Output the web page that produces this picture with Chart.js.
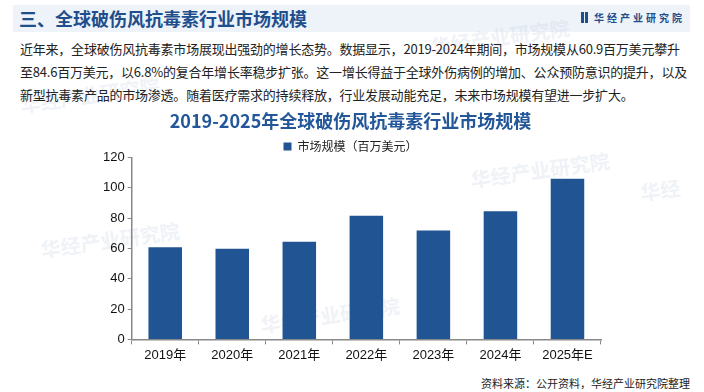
<!DOCTYPE html>
<html>
<head>
<meta charset="utf-8">
<script src="https://cdn.jsdelivr.net/npm/chart.js@4/dist/chart.umd.min.js"></script>
<style>
  body { margin: 0; width: 704px; height: 392px; background: #fff; position: relative; overflow: hidden;
         font-family: "Noto Sans CJK SC", "Noto Sans", sans-serif; }
  .header { position: absolute; left: 13px; top: 5px; width: 677px; height: 27px; background: #eef3fa; }
  .header .t { position: absolute; left: 6px; top: 1px; font-size: 18px; font-weight: bold; color: #1f4e8c; line-height: 25px; }
  .logo { position: absolute; right: 5px; top: 7px; font-size: 10px; font-weight: bold; color: #1f4e8c; letter-spacing: 3px; line-height: 12px; }
  .logo i { display: inline-block; width: 3px; height: 11px; background: #1f4e8c; margin-right: 1px; vertical-align: -1px; }
  .txt { position: absolute; left: 20px; top: 37px; font-size: 13px; line-height: 23px; color: #222; white-space: nowrap; letter-spacing: -0.22px; }
  .src { position: absolute; right: 14px; top: 375px; font-size: 11px; color: #222; }
  .wm { position: absolute; color: rgba(200, 210, 225, 0.3); font-weight: bold; font-size: 20px; transform: rotate(-8deg); }
  #wrap { position: absolute; left: 0; top: 104px; width: 704px; height: 268px; }
</style>
</head>
<body>
<div class="header">
  <div class="t">三、全球破伤风抗毒素行业市场规模</div>
  <div class="logo"><i></i><i></i> 华经产业研究院</div>
</div>
<div class="wm" style="left:430px;top:22px;">华经产业研究院</div>
<div class="wm" style="left:20px;top:80px;">华经产业研究院</div>
<div class="wm" style="left:40px;top:225px;">华经产业研究院</div>
<div class="wm" style="left:470px;top:155px;">华经产业研究院</div>
<div class="wm" style="left:260px;top:300px;">华经产业研究院</div>
<div class="wm" style="left:640px;top:175px;">华经</div>
<div class="txt">近年来，全球破伤风抗毒素市场展现出强劲的增长态势。数据显示，2019-2024年期间，市场规模从60.9百万美元攀升<br>至84.6百万美元，以6.8%的复合年增长率稳步扩张。这一增长得益于全球外伤病例的增加、公众预防意识的提升，以及<br>新型抗毒素产品的市场渗透。随着医疗需求的持续释放，行业发展动能充足，未来市场规模有望进一步扩大。</div>
<div id="wrap"><canvas id="grafica"></canvas></div>
<div class="src">资料来源：公开资料，华经产业研究院整理</div>

<script>
// Datos del gráfico
const anios = ["2019年", "2020年", "2021年", "2022年", "2023年", "2024年", "2025年E"];
const mercado = [60.9, 59.9, 64.5, 81.6, 71.8, 84.6, 106.0];
const serieNombre = "市场规模（百万美元）";
const tituloGrafica = "2019-2025年全球破伤风抗毒素行业市场规模";

const ctx = document.getElementById("grafica").getContext("2d");

// Acortar la caja de la leyenda para acercar el área de la gráfica
const leyendaCorta = {
  id: "leyendaCorta",
  beforeInit(chart) {
    const fitOriginal = chart.legend.fit;
    chart.legend.fit = function () {
      fitOriginal.bind(chart.legend)();
      this.height -= 5;
    };
  },
};

new Chart(ctx, {
  type: "bar",
  data: {
    labels: anios,
    datasets: [
      {
        label: serieNombre,
        data: mercado,
        backgroundColor: "#215493",
        barPercentage: 0.5,
        categoryPercentage: 1,
      },
    ],
  },
  options: {
    responsive: true,
    maintainAspectRatio: false,
    animation: false,
    layout: { padding: { top: 4, left: 100, right: 103, bottom: 6 } },
    plugins: {
      title: {
        display: true,
        text: tituloGrafica,
        color: "#23579a",
        font: { size: 18, weight: "bold", family: "'Noto Sans CJK SC'" },
        padding: { top: 2, bottom: 8 },
      },
      legend: {
        display: true,
        labels: {
          boxWidth: 8,
          boxHeight: 8,
          padding: 1,
          color: "#222",
          font: { size: 12, family: "'Noto Sans CJK SC'" },
        },
      },
      tooltip: { enabled: false },
    },
    scales: {
      x: {
        grid: { display: true, drawOnChartArea: false, drawTicks: true, tickLength: 5, color: "#888" },
        border: { color: "#888", width: 1.5 },
        ticks: { color: "#111", padding: 3, font: { size: 13, family: "'Liberation Sans', 'Noto Sans CJK SC'" } },
      },
      y: {
        min: 0,
        max: 120,
        grid: { display: true, drawOnChartArea: false, drawTicks: true, tickLength: 4, color: "#888" },
        border: { color: "#888", width: 1.5 },
        ticks: { stepSize: 20, color: "#111", padding: 3, font: { size: 13, family: "'Liberation Sans'" } },
      },
    },
  },
  plugins: [leyendaCorta],
});
</script>
</body>
</html>
